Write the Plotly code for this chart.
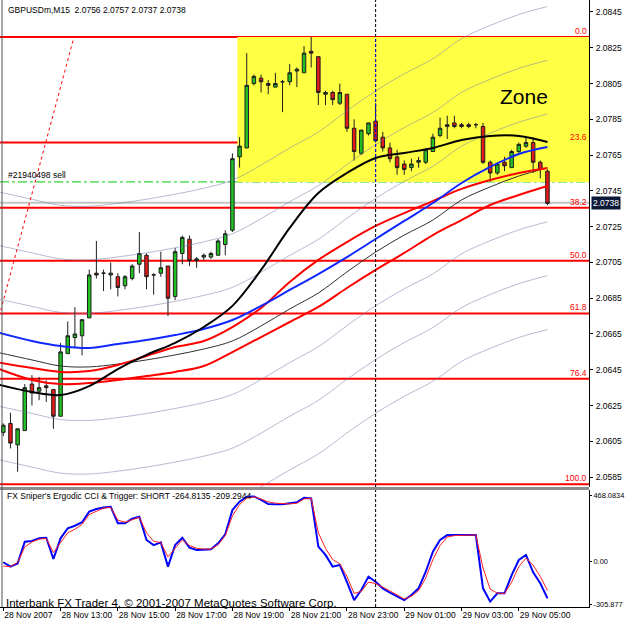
import plotly.graph_objects as go

# ---------------- data ----------------
bars = list(range(77))
opens = [2.0610,2.0615,2.0603,2.0611,2.0637,2.0633,2.0636,2.0634,2.0619,2.0654,2.0663,2.0664,2.0674,2.0699,2.0699,2.0698,
         2.0697,2.0692,2.0696,2.0704,2.0709,2.0698,2.0699,2.0703,2.0686,2.0710,2.0718,2.0706,2.0708,2.0708,2.0709,2.0715,
         2.0723,2.0764,2.0769,2.0805,2.0808,2.0805,2.0803,2.0806,2.0806,2.0812,2.0811,2.0823,2.0820,2.0799,2.0800,2.0794,
         2.0799,2.0780,2.0766,2.0777,2.0784,2.0775,2.0769,2.0764,2.0760,2.0758,2.0761,2.0761,2.0767,2.0776,2.0781,2.0783,
         2.0782,2.0782,2.0782,2.0781,2.0761,2.0755,2.0761,2.0758,2.0767,2.0770,2.0772,2.0761,2.0756]
highs = [2.0615,2.0621,2.0612,2.0637,2.0642,2.0641,2.0639,2.0634,2.0660,2.0672,2.0680,2.0673,2.0701,2.0717,2.0701,2.0705,
         2.0699,2.0698,2.0704,2.0722,2.0710,2.0699,2.0711,2.0703,2.0713,2.0720,2.0720,2.0708,2.0710,2.0711,2.0718,2.0723,
         2.0766,2.0775,2.0822,2.0810,2.0810,2.0807,2.0811,2.0807,2.0816,2.0814,2.0826,2.0831,2.0820,2.0801,2.0801,2.0805,
         2.0799,2.0785,2.0779,2.0783,2.0794,2.0778,2.0772,2.0768,2.0762,2.0763,2.0764,2.0769,2.0777,2.0786,2.0787,2.0787,
         2.0783,2.0783,2.0783,2.0783,2.0762,2.0761,2.0764,2.0768,2.0772,2.0775,2.0775,2.0762,2.0757]
lows = [2.0608,2.0601,2.0588,2.0611,2.0625,2.0628,2.0627,2.0612,2.0619,2.0654,2.0657,2.0653,2.0674,2.0696,2.0689,2.0690,
        2.0686,2.0690,2.0695,2.0699,2.0690,2.0687,2.0697,2.0675,2.0684,2.0704,2.0703,2.0702,2.0706,2.0707,2.0709,2.0709,
        2.0722,2.0758,2.0769,2.0804,2.0800,2.0799,2.0803,2.0789,2.0804,2.0803,2.0811,2.0814,2.0793,2.0793,2.0793,2.0793,
        2.0778,2.0762,2.0765,2.0776,2.0772,2.0767,2.0761,2.0754,2.0754,2.0756,2.0758,2.0760,2.0767,2.0775,2.0774,2.0780,
        2.0780,2.0780,2.0780,2.0760,2.0750,2.0754,2.0756,2.0758,2.0766,2.0769,2.0755,2.0752,2.0737]
closes = [2.0614,2.0604,2.0612,2.0635,2.0632,2.0635,2.0635,2.0619,2.0655,2.0664,2.0665,2.0673,2.0698,2.0698,2.0699,2.0699,
          2.0691,2.0697,2.0703,2.0710,2.0697,2.0698,2.0702,2.0685,2.0711,2.0719,2.0706,2.0707,2.0709,2.0710,2.0717,2.0721,
          2.0763,2.0770,2.0804,2.0809,2.0806,2.0804,2.0805,2.0806,2.0811,2.0813,2.0822,2.0822,2.0800,2.0800,2.0796,2.0800,
          2.0780,2.0767,2.0779,2.0783,2.0773,2.0769,2.0763,2.0758,2.0757,2.0760,2.0762,2.0768,2.0775,2.0780,2.0782,2.0781,
          2.0781,2.0781,2.0782,2.0761,2.0755,2.0760,2.0759,2.0767,2.0771,2.0772,2.0761,2.0757,2.0738]

# moving averages sampled every 4 bars
ma_bars = [-1, 4, 8, 12, 16, 20, 24, 28, 32, 36, 40, 44, 48, 52, 56, 60, 64, 68, 72, 76]
ma_black_thick = [2.06370,2.06326,2.06309,2.06359,2.06454,2.06533,2.06600,2.06689,2.06807,2.07008,
                  2.07243,2.07438,2.07550,2.07634,2.07662,2.07690,2.07734,2.07757,2.07757,2.07723]
ma_blue = [2.06661,2.06611,2.06583,2.06572,2.06594,2.06616,2.06644,2.06678,2.06728,2.06807,
           2.06896,2.06985,2.07080,2.07181,2.07282,2.07382,2.07494,2.07584,2.07656,2.07695]
ma_red_upper = [2.06493,2.06460,2.06438,2.06443,2.06477,2.06527,2.06577,2.06611,2.06689,2.06795,
                2.06941,2.07064,2.07164,2.07254,2.07326,2.07393,2.07461,2.07511,2.07550,2.07578]
ma_red_lower = [2.06460,2.06393,2.06370,2.06376,2.06393,2.06415,2.06438,2.06471,2.06549,2.06633,
                2.06717,2.06801,2.06907,2.07008,2.07103,2.07203,2.07287,2.07371,2.07427,2.07477]
ma_thin = [2.06549,2.06505,2.06471,2.06466,2.06482,2.06505,2.06533,2.06566,2.06611,2.06695,
           2.06790,2.06879,2.06997,2.07108,2.07203,2.07287,2.07399,2.07472,2.07533,2.07578]
envelope_pct = [-0.435, -0.29, -0.145, 0.145, 0.29, 0.435]

# Fibonacci retracement
fib_high = 2.0831
fib_low = 2.0581
fib_levels = [0.0, 23.6, 38.2, 50.0, 61.8, 76.4, 100.0]
fib_texts = ["0.0", "23.6", "38.2", "50.0", "61.8", "76.4", "100.0"]
fib_trend_bars = [-1.0, 9.87]
fib_trend_prices = [2.06686, 2.0831]

zone_start_bar = 32.7
zone_top = 2.0831
zone_bottom = 2.0750
order_price = 2.0750
bid_price = 2.0738
separator_bar = 52

# Ergodic CCI indicator
cci = [-9,-40,-17,137,142,161,165,14,161,232,250,275,350,369,380,385,267,267,300,314,149,113,132,-40,113,165,95,78,80,83,
       125,189,362,421,456,458,433,404,403,402,410,416,449,444,102,43,-40,-28,-150,-277,-206,-111,-147,-194,-225,-250,-277,
       -241,-194,-76,66,149,184,184,184,189,184,-194,-288,-229,-229,-100,7,43,-80,-158,-265]
trigger = [-36,-40,-10,100,135,155,160,60,130,200,225,260,330,355,375,380,290,275,295,310,200,140,130,30,90,150,110,90,85,85,
           115,180,320,400,445,455,440,420,410,405,405,410,440,445,200,90,10,-20,-110,-230,-215,-150,-160,-185,-210,-240,-270,
           -250,-210,-120,10,110,170,180,182,186,185,-50,-200,-228,-230,-150,-40,20,-30,-110,-209]
ind_max = 468.0834
ind_min = -305.877

price_ticks = [2.0585,2.0605,2.0625,2.0645,2.0665,2.0685,2.0705,2.0725,2.0745,2.0765,2.0785,2.0805,2.0825,2.0845]
time_tick_bars = [0, 8, 16, 24, 32, 40, 48, 56, 64, 72]
time_labels = ["28 Nov 2007","28 Nov 13:00","28 Nov 15:00","28 Nov 17:00","28 Nov 19:00",
               "28 Nov 21:00","28 Nov 23:00","29 Nov 01:00","29 Nov 03:00","29 Nov 05:00"]

# ---------------- layout geometry (pixels) ----------------
W, Hh = 625, 625
ML, MR, MT, MB = 0, 36, 0, 18
PW = W - ML - MR          # 589
PH = Hh - MT - MB         # 607
main_bottom_px = 487
ind_top_px = 490
def py(px):  # pixel y -> paper y
    return (PH - px) / PH

bar_px = 7.16
bar0_px = 3.3
x_range = [(0 - bar0_px) / bar_px, (PW - bar0_px) / bar_px]
px_per_price = 1 / 0.0000559
main_top_price = 2.08517
main_range = [main_top_price - main_bottom_px / px_per_price, main_top_price]
ind_px_per_unit = 0.141
ind_zero_px = 561
ind_range = [(ind_zero_px - PH) / ind_px_per_unit, (ind_zero_px - ind_top_px) / ind_px_per_unit]

FONT = "Liberation Sans"
fig = go.Figure()

# envelopes
for pct in envelope_pct:
    fig.add_trace(go.Scatter(x=ma_bars, y=[m * (1 + pct / 100) for m in ma_thin], mode="lines",
                             line=dict(color="rgba(110,120,165,0.5)", width=1, shape="spline"),
                             xaxis="x", yaxis="y", hoverinfo="skip", showlegend=False))

# candles
fig.add_trace(go.Candlestick(x=bars, open=opens, high=highs, low=lows, close=closes,
                             increasing=dict(fillcolor="#22c022", line=dict(color="#1e1e1e", width=1)),
                             decreasing=dict(fillcolor="#e41a1a", line=dict(color="#1e1e1e", width=1)),
                             whiskerwidth=0, xaxis="x", yaxis="y", showlegend=False, hoverinfo="skip"))

fig.add_trace(go.Scatter(x=ma_bars, y=ma_thin, mode="lines", line=dict(color="#303030", width=1, shape="spline"),
                         xaxis="x", yaxis="y", showlegend=False, hoverinfo="skip"))
fig.add_trace(go.Scatter(x=ma_bars, y=ma_red_lower, mode="lines", line=dict(color="#ff0000", width=2, shape="spline"),
                         xaxis="x", yaxis="y", showlegend=False, hoverinfo="skip"))
fig.add_trace(go.Scatter(x=ma_bars, y=ma_red_upper, mode="lines", line=dict(color="#ff0000", width=2, shape="spline"),
                         xaxis="x", yaxis="y", showlegend=False, hoverinfo="skip"))
fig.add_trace(go.Scatter(x=ma_bars, y=ma_blue, mode="lines", line=dict(color="#1028ff", width=2, shape="spline"),
                         xaxis="x", yaxis="y", showlegend=False, hoverinfo="skip"))
fig.add_trace(go.Scatter(x=ma_bars, y=ma_black_thick, mode="lines", line=dict(color="#000000", width=2, shape="spline"),
                         xaxis="x", yaxis="y", showlegend=False, hoverinfo="skip"))
fig.add_trace(go.Scatter(x=fib_trend_bars, y=fib_trend_prices, mode="lines",
                         line=dict(color="#ff0000", width=1, dash="dot"),
                         xaxis="x", yaxis="y", showlegend=False, hoverinfo="skip"))

# indicator
fig.add_trace(go.Scatter(x=bars, y=cci, mode="lines", line=dict(color="#0000ff", width=2),
                         xaxis="x2", yaxis="y2", showlegend=False, hoverinfo="skip"))
fig.add_trace(go.Scatter(x=bars, y=trigger, mode="lines", line=dict(color="#ff2020", width=1),
                         xaxis="x2", yaxis="y2", showlegend=False, hoverinfo="skip"))

shapes = []
# yellow zone
shapes.append(dict(type="rect", xref="x", yref="y", x0=zone_start_bar, x1=x_range[1], y0=zone_bottom, y1=zone_top,
                   fillcolor="#ffff44", line=dict(width=0), layer="below"))
# fib lines
for lv in fib_levels:
    p = fib_high - (fib_high - fib_low) * lv / 100
    shapes.append(dict(type="line", xref="paper", yref="y", x0=0, x1=1, y0=p, y1=p,
                       line=dict(color="#ff0000", width=2), layer="below"))
# order line
shapes.append(dict(type="line", xref="paper", yref="y", x0=0, x1=1, y0=order_price, y1=order_price,
                   line=dict(color="#00c800", width=1, dash="dashdot"), layer="below"))
# bid line
shapes.append(dict(type="line", xref="paper", yref="y", x0=0, x1=1, y0=bid_price + 0.00003, y1=bid_price + 0.00003,
                   line=dict(color="#c4c4c4", width=2), layer="below"))
# period separator
shapes.append(dict(type="line", xref="x", yref="y", x0=separator_bar, x1=separator_bar, y0=main_range[0], y1=main_range[1],
                   line=dict(color="#000000", width=1, dash="3px,2px")))
shapes.append(dict(type="line", xref="x", yref="y", x0=separator_bar, x1=separator_bar, y0=zone_bottom, y1=zone_top,
                   line=dict(color="#0000ff", width=1, dash="3px,2px")))
shapes.append(dict(type="line", xref="x2", yref="y2", x0=separator_bar, x1=separator_bar, y0=ind_range[0], y1=ind_range[1],
                   line=dict(color="#000000", width=1, dash="3px,2px")))
# panel separator and left frame
shapes.append(dict(type="rect", xref="paper", yref="paper", x0=0, x1=1, y0=py(ind_top_px), y1=py(main_bottom_px),
                   fillcolor="#8c8c8c", line=dict(width=0)))
shapes.append(dict(type="line", xref="paper", yref="paper", x0=2 / PW, x1=2 / PW, y0=0, y1=1,
                   line=dict(color="#505050", width=1)))

ann = []
ann.append(dict(text="GBPUSDm,M15  2.0756 2.0757 2.0737 2.0738", xref="paper", yref="paper",
                x=6 / PW, y=py(10), xanchor="left", yanchor="middle", showarrow=False,
                font=dict(family=FONT, size=8.5, color="#000000")))
for lv, t in zip(fib_levels, fib_texts):
    p = fib_high - (fib_high - fib_low) * lv / 100
    ann.append(dict(text=t, xref="paper", yref="y", x=1, y=p, xanchor="right", yanchor="bottom",
                    xshift=-1, yshift=0, showarrow=False, borderpad=0,
                    font=dict(family=FONT, size=8.5, color="#ff0000")))
ann.append(dict(text="#21940498 sell", xref="paper", yref="y", x=7 / PW, y=order_price, xanchor="left",
                yanchor="bottom", yshift=1, showarrow=False, borderpad=0,
                font=dict(family=FONT, size=8.5, color="#000000")))
ann.append(dict(text="Zone", xref="x", yref="y", x=72.7, y=2.07975, xanchor="center", yanchor="middle",
                showarrow=False, font=dict(family=FONT, size=21, color="#000000")))
ann.append(dict(text="2.0738", xref="paper", yref="y", x=1, xshift=2, y=bid_price, xanchor="left",
                yanchor="middle", showarrow=False, bgcolor="#0c1838", borderpad=1,
                font=dict(family=FONT, size=8.5, color="#ffffff")))
ann.append(dict(text="FX Sniper's Ergodic CCI & Trigger: SHORT -264.8135 -209.2944", xref="paper", yref="paper",
                x=5 / PW, y=py(496), xanchor="left", yanchor="middle", showarrow=False,
                font=dict(family=FONT, size=8.5, color="#000000")))
ann.append(dict(text="Interbank FX Trader 4, \u00a9 2001-2007 MetaQuotes Software Corp.", xref="paper", yref="paper",
                x=4 / PW, y=py(603), xanchor="left", yanchor="middle", showarrow=False,
                font=dict(family=FONT, size=11.5, color="#000000")))

axis_font = dict(family=FONT, size=8.5, color="#000000")
ind_axis_font = dict(family=FONT, size=7.4, color="#000000")
fig.update_layout(
    width=W, height=Hh, margin=dict(l=ML, r=MR, t=MT, b=MB, autoexpand=False),
    paper_bgcolor="#ffffff", plot_bgcolor="#ffffff", showlegend=False,
    xaxis=dict(domain=[0, 1], range=x_range, anchor="y", showticklabels=False, ticks="", showgrid=False,
               zeroline=False, showline=False, rangeslider=dict(visible=False), fixedrange=True, automargin=False),
    yaxis=dict(domain=[py(main_bottom_px), 1], range=main_range, side="right", anchor="x",
               tickvals=price_ticks, tickformat=".4f", ticks="outside", ticklen=3, tickcolor="#000000",
               showline=True, linecolor="#000000", linewidth=1, showgrid=False, zeroline=False,
               tickfont=axis_font, ticklabelstandoff=1, automargin=False),
    xaxis2=dict(domain=[0, 1], range=x_range, anchor="y2", matches="x", showgrid=False, zeroline=False,
                showline=True, linecolor="#000000", linewidth=1, ticks="outside", ticklen=3, tickcolor="#000000",
                tickvals=time_tick_bars, ticktext=time_labels, ticklabelposition="outside right",
                tickangle=0, tickfont=axis_font, rangeslider=dict(visible=False), automargin=False),
    yaxis2=dict(domain=[0, py(ind_top_px)], range=ind_range, side="right", anchor="x2",
                tickvals=[ind_max, 0, ind_min], ticktext=["468.0834", "0.00", "-305.877"],
                ticks="outside", ticklen=2, tickcolor="#000000", showline=True, linecolor="#000000",
                linewidth=1, showgrid=False, zeroline=False, tickfont=ind_axis_font, ticklabelstandoff=0,
                automargin=False),
    shapes=shapes, annotations=ann,
)

fig.write_html("out.html")
